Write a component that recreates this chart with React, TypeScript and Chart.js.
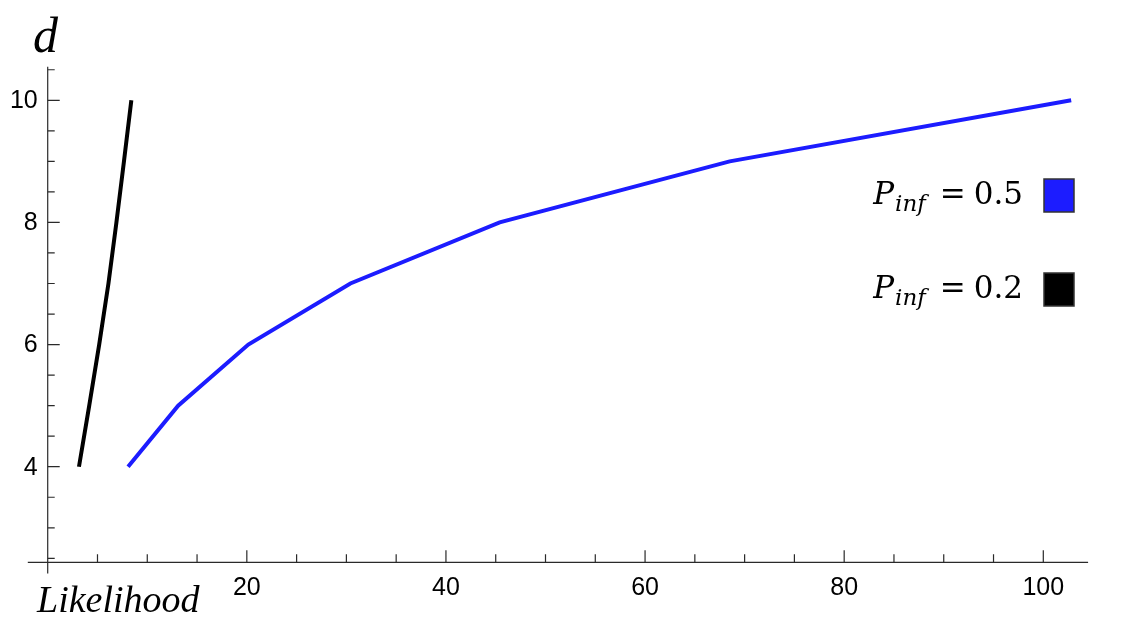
import React, { useEffect, useRef } from "react";
import { Chart, registerables } from "chart.js";

Chart.register(...registerables);

// ---- data ----
const dValues = [4, 5, 6, 7, 8, 9, 10];
const likelihoodP05 = [8.07, 13.1, 20.15, 30.4, 45.4, 68.5, 102.8];
const likelihoodP02 = [3.14, 4.17, 5.17, 6.1, 6.9, 7.66, 8.4];
const seriesLabels = ["0.5", "0.2"];
const seriesColors = ["#1c1cff", "#000000"];
const xMajorTicks = [20, 40, 60, 80, 100];
const yMajorTicks = [4, 6, 8, 10];

const X_MIN = -2;
const X_MAX = 104.5;
const Y_MIN = 2.25;
const Y_MAX = 10.55;
const AXIS_Y = 2.435; // where the horizontal axis crosses
const AXIS_X = 0;

const axesPlugin = {
  id: "mathAxes",
  beforeDatasetsDraw(chart: any) {
    const { ctx, chartArea: ca, scales } = chart;
    const xs = scales.x;
    const ys = scales.y;
    const ax = xs.getPixelForValue(AXIS_X);
    const ay = ys.getPixelForValue(AXIS_Y);
    ctx.save();
    ctx.strokeStyle = "#2a2a2a";
    ctx.lineWidth = 1.2;
    ctx.beginPath();
    ctx.moveTo(ca.left, ay);
    ctx.lineTo(ca.right, ay);
    ctx.moveTo(ax, ca.top);
    ctx.lineTo(ax, ca.bottom);
    ctx.stroke();
    ctx.beginPath();
    for (let v = 5; v <= 100; v += 5) {
      const px = xs.getPixelForValue(v);
      const len = v % 20 === 0 ? 12 : 8;
      ctx.moveTo(px, ay);
      ctx.lineTo(px, ay - len);
    }
    for (let v = 2.5; v <= 10.5; v += 0.5) {
      const py = ys.getPixelForValue(v);
      const len = yMajorTicks.includes(v) ? 12 : 7;
      ctx.moveTo(ax, py);
      ctx.lineTo(ax + len, py);
    }
    ctx.stroke();
    ctx.fillStyle = "#000";
    ctx.font = '25px "Liberation Sans", Arial, sans-serif';
    ctx.textAlign = "center";
    ctx.textBaseline = "middle";
    xMajorTicks.forEach((v) => {
      ctx.fillText(String(v), xs.getPixelForValue(v), ay + 26);
    });
    ctx.textAlign = "right";
    yMajorTicks.forEach((v) => {
      ctx.fillText(String(v), ax - 10, ys.getPixelForValue(v) + 1);
    });
    ctx.restore();
  },
  afterDraw(chart: any) {
    const { ctx } = chart;
    ctx.save();
    ctx.fillStyle = "#000";
    ctx.textBaseline = "alphabetic";
    ctx.textAlign = "left";
    ctx.font = 'italic 50px "Liberation Serif", "DejaVu Serif", serif';
    ctx.fillText("d", 33, 52);
    ctx.font = 'italic 38px "Liberation Serif", "DejaVu Serif", serif';
    ctx.fillText("Likelihood", 37, 612);
    // legend
    const rightEdge = 1023;
    const baselines = [204, 298];
    const mainFont = '31px "DejaVu Serif", "Liberation Serif", serif';
    const italFont = 'italic 31px "DejaVu Serif", "Liberation Serif", serif';
    const subFont = 'italic 23px "DejaVu Serif", "Liberation Serif", serif';
    seriesLabels.forEach((lab, i) => {
      const base = baselines[i];
      ctx.textAlign = "right";
      ctx.font = mainFont;
      ctx.fillText(lab, rightEdge, base);
      let x = rightEdge - ctx.measureText(lab).width - 8;
      ctx.fillText("=", x, base);
      x -= ctx.measureText("=").width + 14;
      ctx.font = subFont;
      ctx.fillText("inf", x, base + 7);
      x -= ctx.measureText("inf").width + 1;
      ctx.font = italFont;
      ctx.fillText("P", x, base);
      const bx = 1044;
      const by = base - 25;
      ctx.fillStyle = seriesColors[i];
      ctx.fillRect(bx, by, 30, 33);
      ctx.strokeStyle = "#333";
      ctx.lineWidth = 1.5;
      ctx.strokeRect(bx, by, 30, 33);
      ctx.fillStyle = "#000";
    });
    ctx.restore();
  },
};

export default function App() {
  const canvasRef = useRef<HTMLCanvasElement | null>(null);

  useEffect(() => {
    document.body.style.margin = "0";
    const canvas = canvasRef.current;
    if (!canvas) return;
    const chart = new Chart(canvas, {
      type: "line",
      data: {
        datasets: [
          {
            label: "P_inf = " + seriesLabels[0],
            data: dValues.map((d, i) => ({ x: likelihoodP05[i], y: d })),
            borderColor: seriesColors[0],
            borderWidth: 4,
            pointRadius: 0,
            tension: 0,
            fill: false,
          },
          {
            label: "P_inf = " + seriesLabels[1],
            data: dValues.map((d, i) => ({ x: likelihoodP02[i], y: d })),
            borderColor: seriesColors[1],
            borderWidth: 4,
            pointRadius: 0,
            tension: 0,
            fill: false,
          },
        ],
      },
      options: {
        animation: false,
        responsive: false,
        maintainAspectRatio: false,
        devicePixelRatio: 1,
        layout: { padding: { left: 27.8, right: 42.9, top: 66.7, bottom: 47.4 } },
        plugins: { legend: { display: false }, tooltip: { enabled: false } },
        scales: {
          x: { type: "linear", min: X_MIN, max: X_MAX, display: false },
          y: { type: "linear", min: Y_MIN, max: Y_MAX, display: false },
        },
      },
      plugins: [axesPlugin],
    });
    return () => chart.destroy();
  }, []);

  return (
    <div style={{ width: 1131, height: 621, overflow: "hidden", background: "#fff" }}>
      <canvas ref={canvasRef} width={1131} height={621} />
    </div>
  );
}
